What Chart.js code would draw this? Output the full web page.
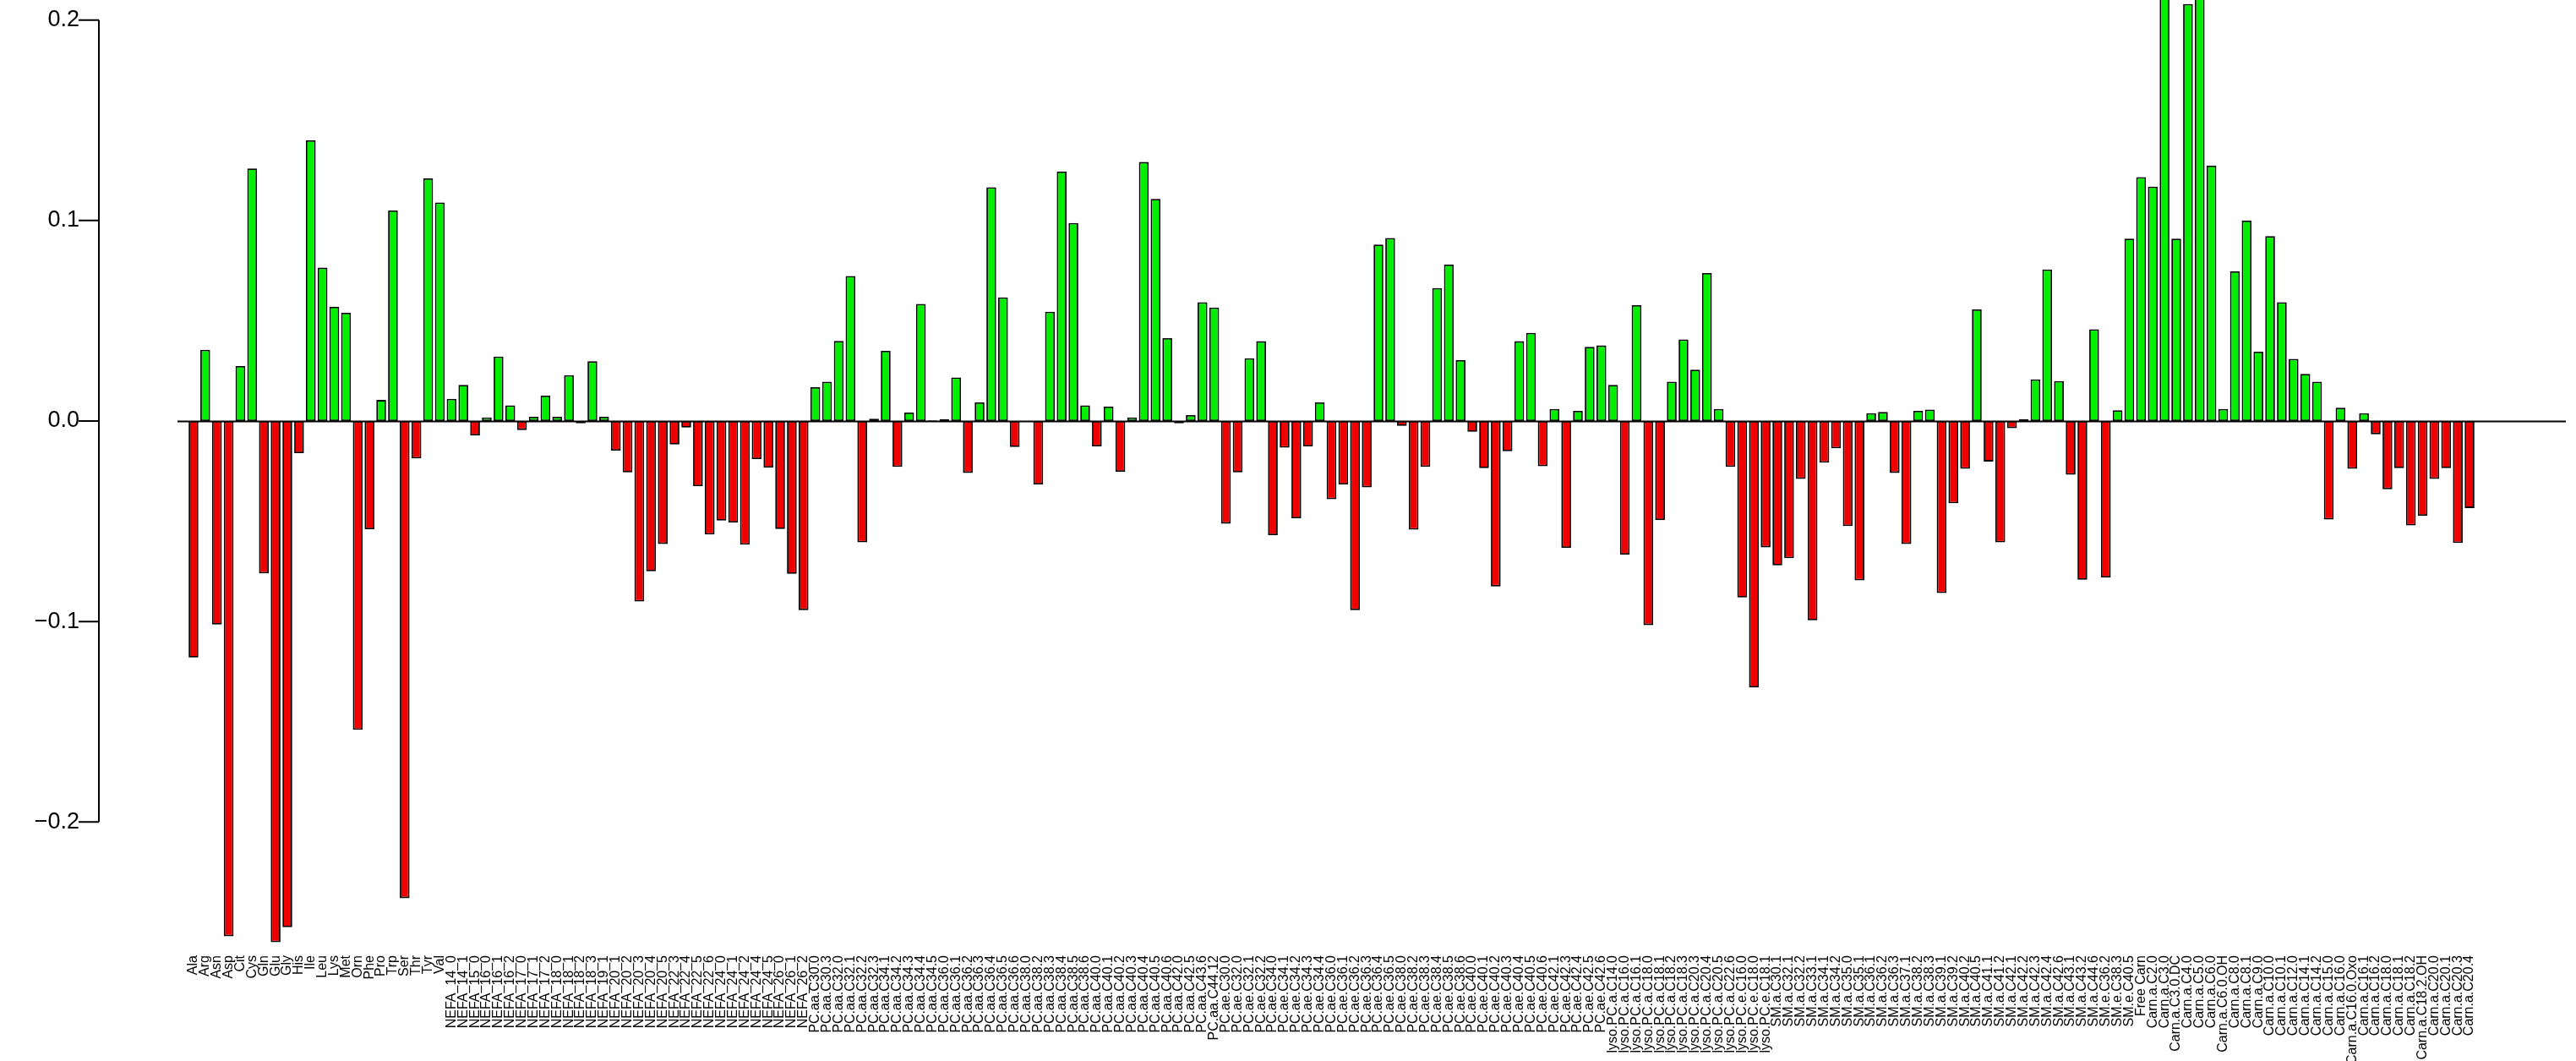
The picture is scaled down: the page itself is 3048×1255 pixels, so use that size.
<!DOCTYPE html>
<html>
<head>
<meta charset="utf-8">
<script src="https://cdn.jsdelivr.net/npm/chart.js@4"></script>
<style>
  html, body { margin: 0; padding: 0; background: #ffffff; }
  #wrap { width: 3048px; height: 1255px; position: relative; }
</style>
</head>
<body>
<div id="wrap"><canvas id="c" width="3048" height="1255"></canvas></div>
<script>
// ---------- category labels ----------
const aminoLabels = ["Ala","Arg","Asn","Asp","Cit","Cys","Gln","Glu","Gly","His","Ile","Leu","Lys","Met","Orn","Phe","Pro","Trp","Ser","Thr","Tyr","Val"];
const nefaLabels = ["NEFA_14_0","NEFA_14_1","NEFA_15_0","NEFA_16_0","NEFA_16_1","NEFA_16_2","NEFA_17_0","NEFA_17_1","NEFA_17_2","NEFA_18_0","NEFA_18_1","NEFA_18_2","NEFA_18_3","NEFA_19_1","NEFA_20_1","NEFA_20_2","NEFA_20_3","NEFA_20_4","NEFA_20_5","NEFA_22_3","NEFA_22_4","NEFA_22_5","NEFA_22_6","NEFA_24_0","NEFA_24_1","NEFA_24_2","NEFA_24_4","NEFA_24_5","NEFA_26_0","NEFA_26_1","NEFA_26_2"];
const pcaaLabels = ["PC.aa.C30.0","PC.aa.C30.3","PC.aa.C32.0","PC.aa.C32.1","PC.aa.C32.2","PC.aa.C32.3","PC.aa.C34.1","PC.aa.C34.2","PC.aa.C34.3","PC.aa.C34.4","PC.aa.C34.5","PC.aa.C36.0","PC.aa.C36.1","PC.aa.C36.2","PC.aa.C36.3","PC.aa.C36.4","PC.aa.C36.5","PC.aa.C36.6","PC.aa.C38.0","PC.aa.C38.2","PC.aa.C38.3","PC.aa.C38.4","PC.aa.C38.5","PC.aa.C38.6","PC.aa.C40.0","PC.aa.C40.1","PC.aa.C40.2","PC.aa.C40.3","PC.aa.C40.4","PC.aa.C40.5","PC.aa.C40.6","PC.aa.C42.0","PC.aa.C42.5","PC.aa.C43.6","PC.aa.C44.12"];
const pcaeLabels = ["PC.ae.C30.0","PC.ae.C32.0","PC.ae.C32.1","PC.ae.C32.2","PC.ae.C34.0","PC.ae.C34.1","PC.ae.C34.2","PC.ae.C34.3","PC.ae.C34.4","PC.ae.C36.0","PC.ae.C36.1","PC.ae.C36.2","PC.ae.C36.3","PC.ae.C36.4","PC.ae.C36.5","PC.ae.C38.0","PC.ae.C38.2","PC.ae.C38.3","PC.ae.C38.4","PC.ae.C38.5","PC.ae.C38.6","PC.ae.C40.0","PC.ae.C40.1","PC.ae.C40.2","PC.ae.C40.3","PC.ae.C40.4","PC.ae.C40.5","PC.ae.C40.6","PC.ae.C42.1","PC.ae.C42.3","PC.ae.C42.4","PC.ae.C42.5","PC.ae.C42.6"];
const lysoLabels = ["lyso.PC.a.C14.0","lyso.PC.a.C16.0","lyso.PC.a.C16.1","lyso.PC.a.C18.0","lyso.PC.a.C18.1","lyso.PC.a.C18.2","lyso.PC.a.C18.3","lyso.PC.a.C20.3","lyso.PC.a.C20.4","lyso.PC.a.C20.5","lyso.PC.a.C22.6","lyso.PC.e.C16.0","lyso.PC.e.C18.0","lyso.PC.e.C18.1"];
const smLabels = ["SM.a.C30.1","SM.a.C32.1","SM.a.C32.2","SM.a.C33.1","SM.a.C34.1","SM.a.C34.2","SM.a.C35.0","SM.a.C35.1","SM.a.C36.1","SM.a.C36.2","SM.a.C36.3","SM.a.C37.1","SM.a.C38.2","SM.a.C38.3","SM.a.C39.1","SM.a.C39.2","SM.a.C40.2","SM.a.C40.5","SM.a.C41.1","SM.a.C41.2","SM.a.C42.1","SM.a.C42.2","SM.a.C42.3","SM.a.C42.4","SM.a.C42.6","SM.a.C43.1","SM.a.C43.2","SM.a.C44.6","SM.e.C36.2","SM.e.C38.3","SM.e.C40.5"];
const carnLabels = ["Free Carn","Carn.a.C2.0","Carn.a.C3.0","Carn.a.C3.0.DC","Carn.a.C4.0","Carn.a.C5.0","Carn.a.C6.0","Carn.a.C6.0.OH","Carn.a.C8.0","Carn.a.C8.1","Carn.a.C9.0","Carn.a.C10.0","Carn.a.C10.1","Carn.a.C12.0","Carn.a.C14.1","Carn.a.C14.2","Carn.a.C15.0","Carn.a.C16.0","Carn.a.C16.0.Oxo","Carn.a.C16.1","Carn.a.C16.2","Carn.a.C18.0","Carn.a.C18.1","Carn.a.C18.2","Carn.a.C18.2.OH","Carn.a.C20.0","Carn.a.C20.1","Carn.a.C20.3","Carn.a.C20.4"];

// ---------- values ----------
const aminoValues = [-0.118,0.0355,-0.1015,-0.257,0.0274,0.126,-0.076,-0.26,-0.2525,-0.016,0.140,0.0765,0.057,0.054,-0.154,-0.054,0.0105,0.105,-0.238,-0.0187,0.121,0.109];
const nefaValues = [0.0111,0.018,-0.0072,0.0018,0.0322,0.0078,-0.0045,0.0021,0.0127,0.0021,0.0229,-0.0012,0.0298,0.0021,-0.0148,-0.0256,-0.090,-0.075,-0.0614,-0.0117,-0.0033,-0.0325,-0.0566,-0.0497,-0.0506,-0.0617,-0.019,-0.0232,-0.0539,-0.0762,-0.0943];
const pcaaValues = [0.0169,0.0196,0.040,0.0723,-0.0605,0.0012,0.035,-0.0229,0.0042,0.0584,0.0003,0.0009,0.0217,-0.0259,0.0093,0.1166,0.0617,-0.013,0.0,-0.0316,0.0545,0.1244,0.0988,0.0078,-0.0127,0.0072,-0.0253,0.0018,0.1292,0.1108,0.0413,-0.0012,0.003,0.0593,0.0566];
const pcaeValues = [-0.0512,-0.0256,0.0313,0.0398,-0.0569,-0.0133,-0.0485,-0.0127,0.0093,-0.039,-0.0316,-0.0943,-0.0331,0.088,0.0913,-0.0024,-0.0542,-0.0229,0.0663,0.078,0.0304,-0.0054,-0.0235,-0.0825,-0.0151,0.0398,0.044,-0.0226,0.006,-0.0633,0.0051,0.037,0.0377];
const lysoValues = [0.018,-0.0666,0.0578,-0.1018,-0.0494,0.0196,0.0407,0.0256,0.0738,0.006,-0.0229,-0.088,-0.1328,-0.063];
const smValues = [-0.072,-0.0684,-0.0289,-0.0994,-0.0208,-0.0136,-0.0524,-0.0795,0.0039,0.0045,-0.0259,-0.0614,0.0051,0.0057,-0.0858,-0.041,-0.0238,0.0557,-0.0202,-0.0605,-0.0036,0.0009,0.0208,0.0756,0.0199,-0.0268,-0.0792,0.0458,-0.078,0.0054,0.091];
const carnValues = [0.1217,0.1169,0.235,0.091,0.208,0.225,0.1274,0.006,0.0747,0.100,0.0346,0.0922,0.0593,0.031,0.0235,0.0196,-0.0491,0.0066,-0.0238,0.0039,-0.0066,-0.034,-0.0235,-0.0521,-0.0473,-0.0289,-0.0235,-0.0608,-0.0434];

// ---------- y tick labels ----------
const yTicks = [-0.2, -0.1, 0.0, 0.1, 0.2];
const yTickLabels = ["\u22120.2", "\u22120.1", "0.0", "0.1", "0.2"];

const labels = [].concat(aminoLabels, nefaLabels, pcaaLabels, pcaeLabels, lysoLabels, smLabels, carnLabels);
const values = [].concat(aminoValues, nefaValues, pcaaValues, pcaeValues, lysoValues, smValues, carnValues);

const GREEN = "#00EE00";
const RED = "#EE0000";
const FONT = "'Liberation Sans', Arial, Helvetica, sans-serif";

const AXIS_X = 117;
const TICK_LEN = 24;

const rAxisPlugin = {
  id: 'rAxis',
  afterDatasetsDraw(chart) {
    const y = chart.scales.y;
    const ctx = chart.ctx;
    ctx.save();
    ctx.strokeStyle = '#000';
    ctx.lineWidth = 2;
    // zero reference line across the plot region
    const z = Math.round(y.getPixelForValue(0)) + 0.5;
    ctx.beginPath();
    ctx.moveTo(210, z);
    ctx.lineTo(3036, z);
    ctx.stroke();
    // y axis line from first to last tick, with ticks
    ctx.beginPath();
    ctx.moveTo(AXIS_X, y.getPixelForValue(yTicks[0]));
    ctx.lineTo(AXIS_X, y.getPixelForValue(yTicks[yTicks.length - 1]));
    yTicks.forEach(v => {
      const py = y.getPixelForValue(v);
      ctx.moveTo(AXIS_X - TICK_LEN, py);
      ctx.lineTo(AXIS_X, py);
    });
    ctx.stroke();
    ctx.restore();
  }
};

new Chart(document.getElementById('c'), {
  type: 'bar',
  data: {
    labels: labels,
    datasets: [{
      data: values,
      backgroundColor: values.map(v => v > 0 ? GREEN : RED),
      borderColor: '#000000',
      borderWidth: 1.8,
      borderSkipped: false,
      barPercentage: 0.833,
      categoryPercentage: 1.0
    }]
  },
  options: {
    responsive: false,
    devicePixelRatio: 1,
    animation: false,
    layout: { padding: { left: 0, right: 119, top: 0, bottom: 0 } },
    plugins: { legend: { display: false }, tooltip: { enabled: false } },
    scales: {
      x: {
        offset: true,
        grid: { display: false, drawTicks: false },
        border: { display: false },
        ticks: {
          autoSkip: false,
          minRotation: 90,
          maxRotation: 90,
          padding: 14,
          color: '#000',
          font: { family: FONT, size: 16 }
        },
        afterFit(scale) {
          scale.height = 139;
          scale.paddingLeft = 0; scale.paddingRight = 0;
        }
      },
      y: {
        min: -0.2606,
        max: 0.21,
        grid: { display: false, drawTicks: false },
        border: { display: false },
        afterBuildTicks(scale) {
          scale.ticks = yTicks.map(v => ({ value: v }));
        },
        ticks: {
          padding: 128,
          color: '#000',
          font: { family: FONT, size: 27 },
          callback: (v) => {
            const i = yTicks.findIndex(t => Math.abs(t - v) < 1e-9);
            return i >= 0 ? yTickLabels[i] : '';
          }
        },
        afterFit(scale) {
          scale.width = 222;
          scale.paddingTop = 0; scale.paddingBottom = 0;
        }
      }
    }
  },
  plugins: [rAxisPlugin]
});
</script>
</body>
</html>
